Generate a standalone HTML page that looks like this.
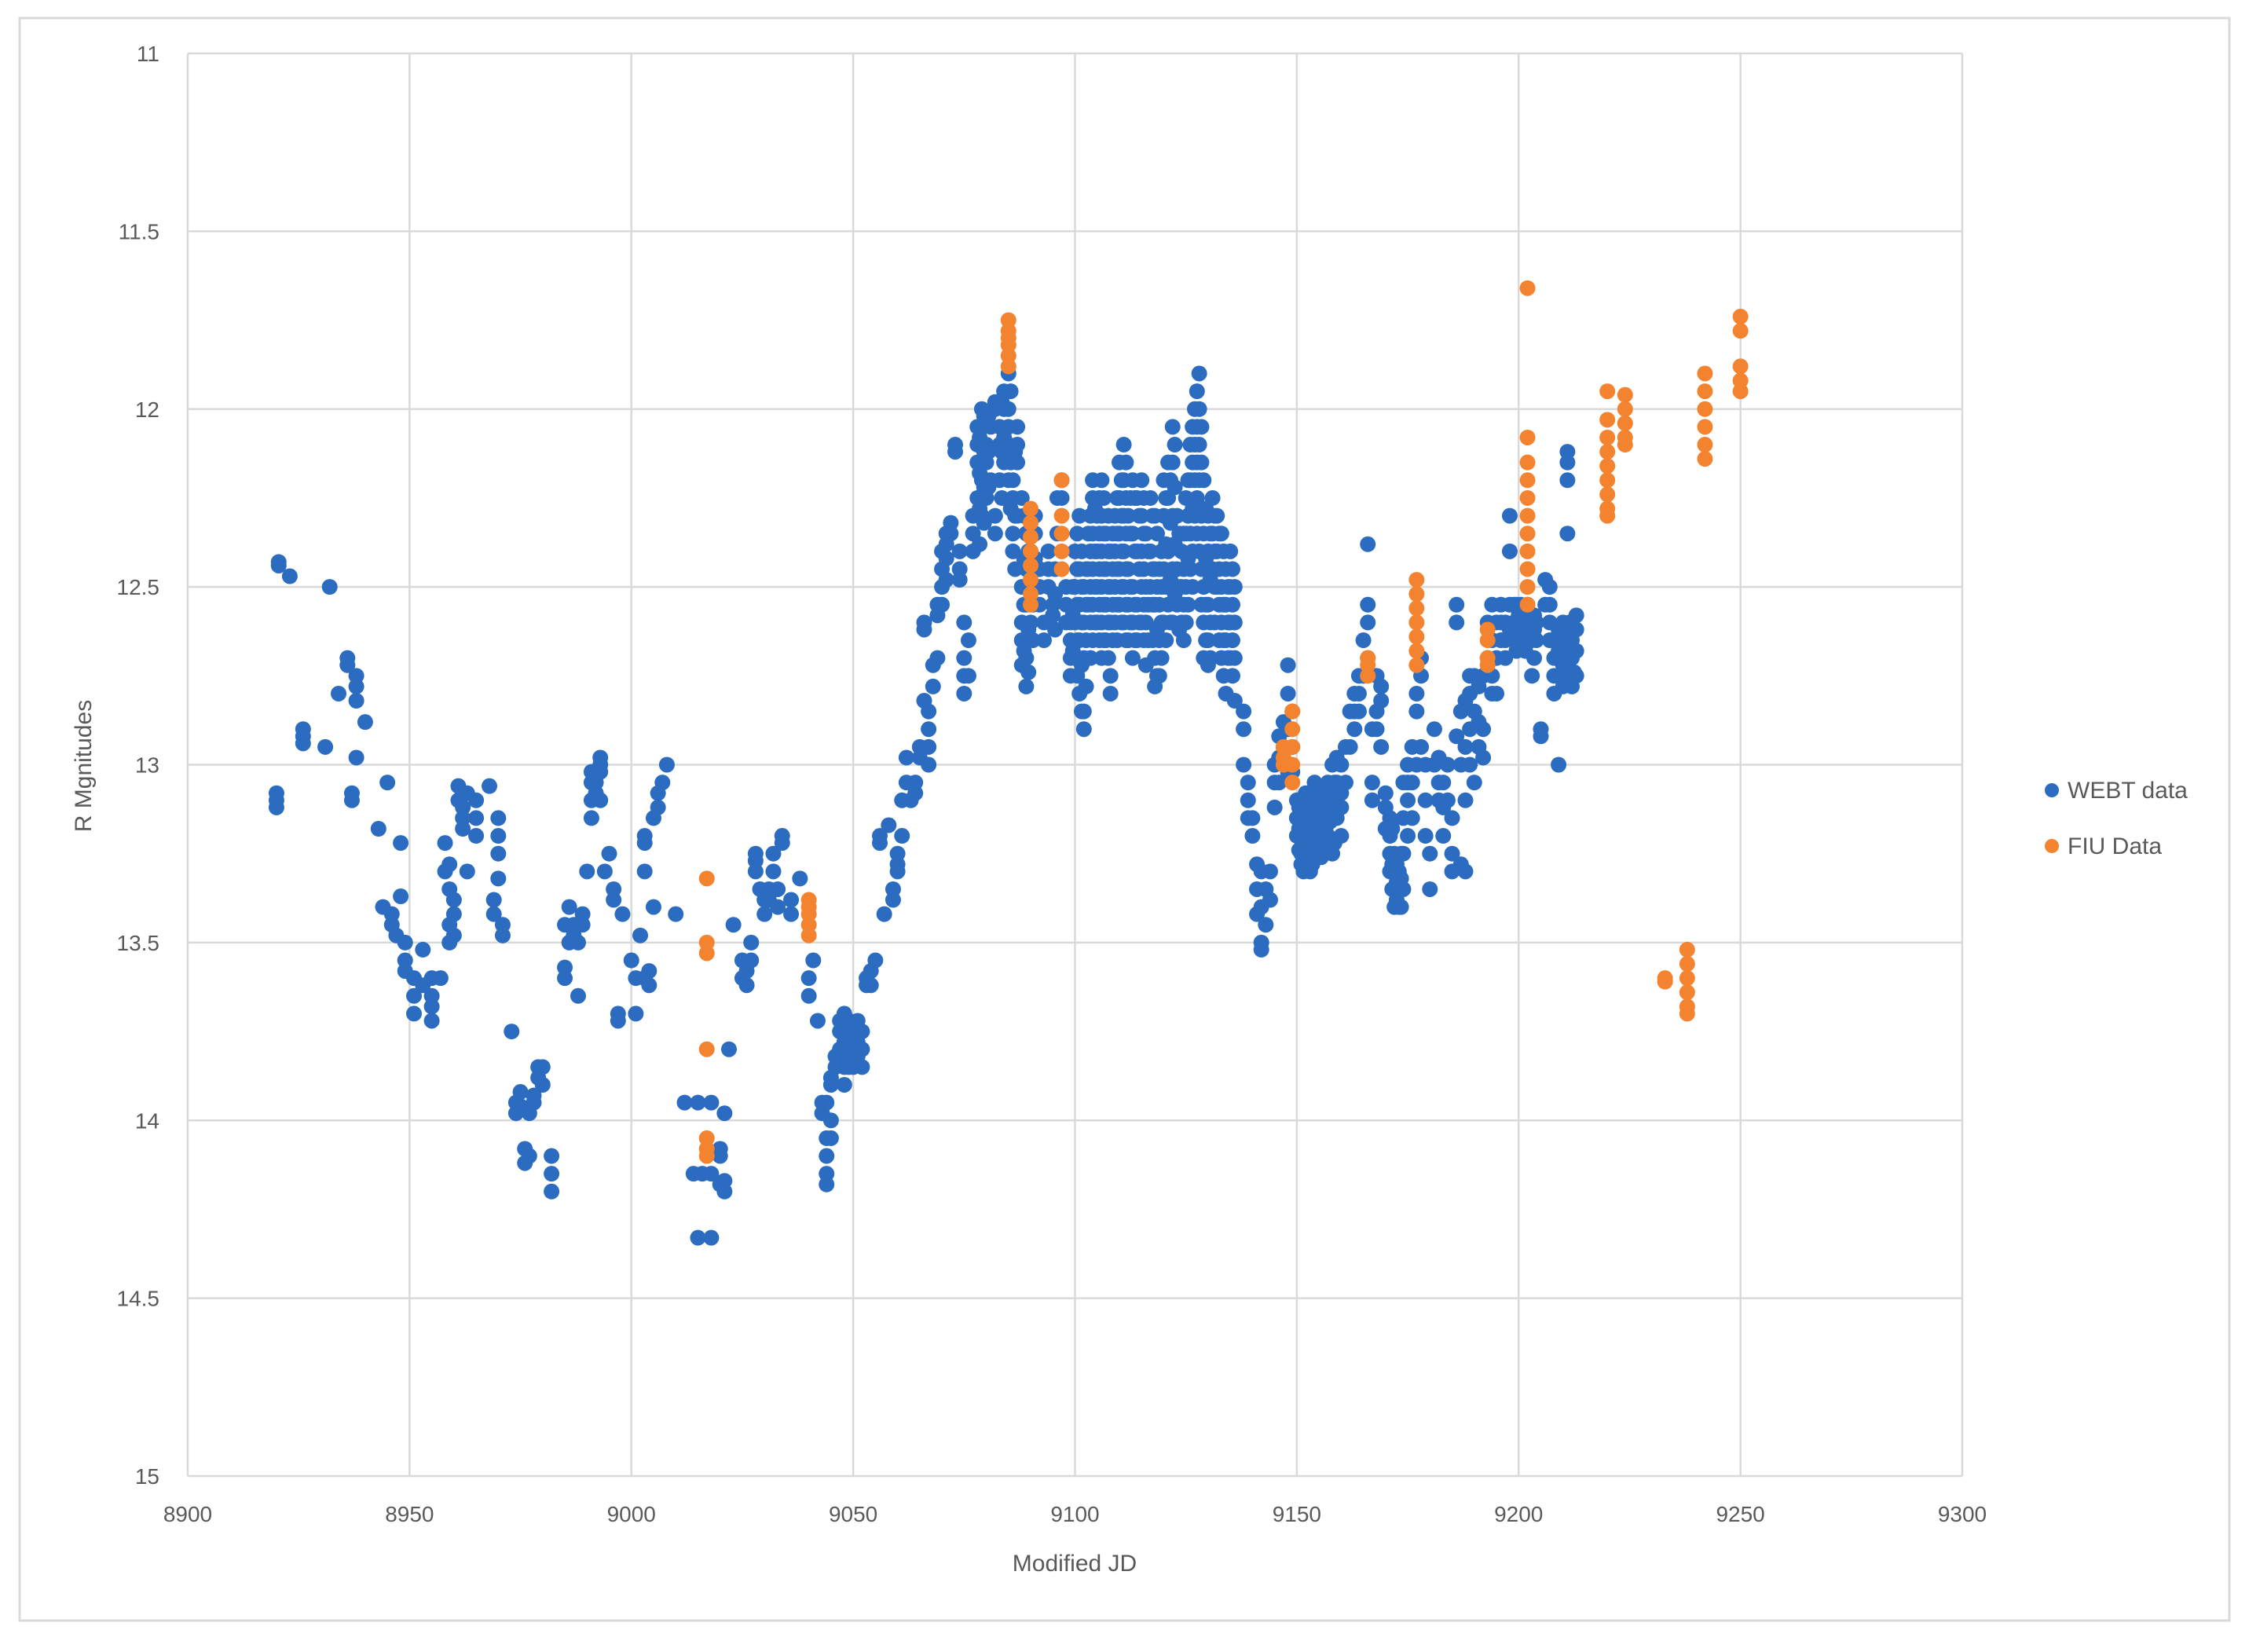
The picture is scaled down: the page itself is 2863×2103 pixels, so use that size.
<!DOCTYPE html>
<html><head><meta charset="utf-8"><style>
html,body{margin:0;padding:0;background:#fff;}
svg{display:block;font-family:"Liberation Sans",sans-serif;}
</style></head><body>
<svg id="chart" width="2863" height="2103" viewBox="0 0 2863 2103" xmlns="http://www.w3.org/2000/svg">
<rect x="25" y="23" width="2813" height="2040" fill="#fff" stroke="#d9d9d9" stroke-width="3"/>
<g id="grid"></g>
<g id="ticks" fill="#595959" font-size="28"></g>
<g id="marks"></g>
<text x="1368" y="2000" text-anchor="middle" font-size="30" fill="#595959">Modified JD</text>
<text transform="translate(116,975) rotate(-90)" text-anchor="middle" font-size="30" fill="#595959">R Mgnitudes</text>
<g>
<g><circle cx="2612" cy="1006" r="9" fill="#2b6cc0"/><text x="2632" y="1016" font-size="30" fill="#595959">WEBT data</text></g>
<g><circle cx="2612" cy="1077" r="9" fill="#f4832f"/><text x="2632" y="1087" font-size="30" fill="#595959">FIU Data</text></g>
</g>
</svg>
<script>
const xTicks=[8900,8950,9000,9050,9100,9150,9200,9250,9300];
const yTicks=[11,11.5,12,12.5,13,13.5,14,14.5,15];
const yTickLabels=["11","11.5","12","12.5","13","13.5","14","14.5","15"];
const webtGroups=[
[8920,[13.1,13.12,13.08]],[8920.5,[12.43,12.44]],[8923,[12.47]],[8926,[12.9,12.92,12.94]],[8931,[12.95]],[8932,[12.5]],[8934,[12.8]],
[8936,[12.7,12.72]],[8937,[13.1,13.08]],[8938,[12.75,12.78,12.82,12.98]],[8940,[12.88]],[8943,[13.18]],[8944,[13.4]],[8945,[13.05]],
[8946,[13.42,13.45]],[8947,[13.48]],[8948,[13.37,13.22]],[8949,[13.5,13.55,13.58]],[8951,[13.6,13.65,13.7]],[8953,[13.62,13.52]],
[8955,[13.6,13.65,13.68,13.72]],[8957,[13.6]],[8958,[13.22,13.3]],[8959,[13.28,13.35,13.45,13.5]],[8960,[13.38,13.42,13.48]],
[8961,[13.06,13.1]],[8962,[13.12,13.15,13.18]],[8963,[13.3,13.08]],[8965,[13.1,13.15,13.2]],[8968,[13.06]],[8969,[13.38,13.42]],
[8970,[13.15,13.2,13.25,13.32]],[8971,[13.45,13.48]],[8973,[13.75]],[8974,[13.95,13.98]],[8975,[13.92,13.96]],[8976,[14.08,14.12]],
[8977,[14.1,13.98]],[8978,[13.95,13.93]],[8979,[13.85,13.88]],[8980,[13.9,13.85]],[8982,[14.1,14.15,14.2]],[8985,[13.57,13.6,13.45]],
[8986,[13.4,13.5]],[8987,[13.45,13.48]],[8988,[13.5,13.65]],[8989,[13.42,13.45]],[8990,[13.3]],[8991,[13.02,13.05,13.1,13.15]],
[8992,[13.05,13.08]],[8993,[12.98,13.0,13.02,13.1]],[8994,[13.3]],[8995,[13.25]],[8996,[13.35,13.38]],[8997,[13.7,13.72]],[8998,[13.42]],
[9000,[13.55]],[9001,[13.6,13.7]],[9002,[13.48]],[9003,[13.3,13.2,13.22,13.6]],[9004,[13.62,13.58]],[9005,[13.4,13.15]],[9006,[13.12,13.08]],
[9007,[13.05]],[9008,[13.0]],[9010,[13.42]],[9012,[13.95]],[9014,[14.15]],[9015,[14.33,13.95]],[9016,[14.15]],[9018,[14.33,13.95,14.15]],
[9020,[14.18,14.08,14.1]],[9021,[13.98,14.2,14.17]],[9022,[13.8]],[9023,[13.45]],[9025,[13.55,13.6]],[9026,[13.58,13.62]],[9027,[13.55,13.5]],
[9028,[13.25,13.3,13.27]],[9029,[13.35]],[9030,[13.38,13.42]],[9031,[13.35,13.38]],[9032,[13.3,13.25]],[9033,[13.35,13.4]],[9034,[13.2,13.22]],
[9036,[13.38,13.42]],[9038,[13.32]],[9040,[13.6,13.65]],[9041,[13.55]],[9042,[13.72]],[9043,[13.95,13.98]],[9044,[13.95,14.05,14.1,14.15,14.18]],
[9045,[13.88,13.9,14.0,14.05]],[9046,[13.82,13.85]],[9047,[13.72,13.75,13.8]],[9048,[13.7,13.75,13.78,13.82,13.85,13.9]],[9049,[13.72,13.76,13.8,13.85]],
[9050,[13.75,13.8,13.85]],[9051,[13.72,13.78,13.82]],[9052,[13.75,13.8,13.85]],[9053,[13.6,13.62]],[9054,[13.58,13.62]],[9055,[13.55]],
[9056,[13.2,13.22]],[9057,[13.42]],[9058,[13.17]],[9059,[13.38,13.35]],[9060,[13.28,13.3,13.25]],[9061,[13.2,13.1]],[9062,[13.05,12.98]],
[9063,[13.1]],[9064,[13.08,13.05]],[9065,[12.98,12.95]],[9066,[12.82,12.62,12.6]],[9067,[12.85,12.9,12.95,13.0]],[9068,[12.78,12.72]],
[9069,[12.7,12.58,12.55]],[9070,[12.4,12.45,12.5,12.55]],[9071,[12.35,12.38,12.42,12.48]],[9072,[12.32,12.35]],[9073,[12.1,12.12]],
[9074,[12.4,12.45,12.48]],[9075,[12.6,12.7,12.75,12.8]],[9076,[12.65,12.75]],[9077,[12.3,12.35,12.4]],[9078,[12.05,12.1,12.15,12.25]],
[9079,[12.0,12.05,12.15,12.2,12.3]],[9080,[12.1,12.15,12.2,12.25]],[9081,[12.05,12.2]],[9082,[12.0,11.98,12.3,12.35]],[9083,[12.05,12.1,12.2]],
[9084,[11.95,12.0,12.08,12.15]],[9085,[11.9,12.0,12.05,12.1,12.2]],[9086,[12.2,12.25,12.35,12.4]],[9087,[12.05,12.1,12.15,12.3]],
[9088,[12.25,12.5,12.6,12.65,12.72]],[9089,[12.35,12.45,12.55,12.7,12.78]],[9090,[12.4,12.5,12.6]],[9091,[12.3,12.35,12.42]],
[9092,[12.45,12.5,12.55]],[9093,[12.6,12.65]],[9094,[12.4,12.45,12.5]],[9095,[12.55,12.58]],[9096,[12.25,12.35]],[9097,[12.2,12.25]],
[9098,[12.5,12.55,12.6]],[9099,[12.6,12.65,12.7,12.75]],[9100,[12.4,12.5,12.6,12.7]],[9101,[12.3,12.45,12.55,12.65,12.8]],
[9102,[12.5,12.6,12.7,12.85,12.9]],[9103,[12.35,12.45,12.55]],[9104,[12.2,12.25,12.35,12.45,12.55,12.65]],[9105,[12.3,12.4,12.5,12.6]],
[9106,[12.2,12.3,12.4,12.5,12.6,12.7]],[9107,[12.35,12.45,12.55,12.65]],[9108,[12.4,12.5,12.6,12.75,12.8]],[9109,[12.3,12.4,12.5,12.6]],
[9110,[12.15,12.25,12.35,12.45,12.55]],[9111,[12.1,12.2,12.3,12.4,12.5,12.6]],[9112,[12.3,12.45,12.55,12.65]],[9113,[12.2,12.35,12.5,12.6,12.7]],
[9114,[12.25,12.4,12.55,12.65]],[9115,[12.2,12.3,12.4,12.5,12.6]],[9116,[12.35,12.5,12.6,12.72]],[9117,[12.25,12.4,12.5]],
[9118,[12.3,12.45,12.55,12.7,12.78]],[9119,[12.45,12.55,12.65,12.75]],[9120,[12.2,12.3,12.45,12.6]],[9121,[12.15,12.25,12.4,12.55]],
[9122,[12.05,12.15,12.3,12.45,12.6]],[9123,[12.3,12.45,12.55]],[9124,[12.4,12.5,12.6]],[9125,[12.25,12.35,12.5,12.6]],
[9126,[12.1,12.2,12.35,12.45]],[9127,[12.0,12.1,12.2,12.3]],[9128,[11.9,12.0,12.1,12.2,12.4]],[9129,[12.2,12.35,12.5,12.6,12.7]],
[9130,[12.3,12.4,12.55,12.65,12.72]],[9131,[12.25,12.35,12.45]],[9132,[12.3,12.4,12.5]],[9133,[12.35,12.5,12.6,12.7]],
[9134,[12.45,12.55,12.65,12.8]],[9135,[12.4,12.5,12.6,12.7]],[9136,[12.5,12.6,12.7,12.82]],[9138,[12.85,12.9,13.0]],
[9139,[13.05,13.1,13.15]],[9140,[13.15,13.2]],[9141,[13.28,13.35,13.42]],[9142,[13.3,13.4,13.5,13.52]],[9143,[13.35,13.45]],
[9144,[13.3,13.38]],[9145,[13.0,13.05,13.12]],[9146,[12.92,12.98,13.05]],[9147,[12.88,12.95]],[9148,[12.72,12.8,12.9,13.02]],
[9149,[12.85,12.95,13.02]],[9150,[13.1,13.15,13.2]],[9151,[13.15,13.2,13.25,13.28]],[9152,[13.08,13.15,13.22,13.28]],
[9153,[13.1,13.2,13.3]],[9154,[13.05,13.15,13.25]],[9155,[13.1,13.18,13.25]],[9156,[13.08,13.15,13.22]],[9157,[13.05,13.12,13.2]],
[9158,[13.0,13.1,13.25]],[9159,[12.98,13.05,13.15]],[9160,[13.0,13.08,13.12,13.2]],[9161,[12.95,13.05]],[9162,[12.85,12.95]],
[9163,[12.8,12.85,12.9]],[9164,[12.75,12.8,12.85]],[9165,[12.65,12.75]],[9166,[12.38,12.55,12.6,12.7]],[9167,[13.05,13.1,12.9]],
[9168,[12.75,12.85,12.9]],[9169,[12.78,12.82,12.95]],[9170,[13.08,13.12,13.18]],[9171,[13.15,13.2,13.25,13.3]],[9172,[13.25,13.3,13.35,13.4]],
[9173,[13.3,13.35,13.4]],[9174,[13.05,13.15,13.25,13.35]],[9175,[13.0,13.05,13.1,13.2]],[9176,[12.95,13.05,13.15]],[9177,[12.8,12.85,13.0]],
[9178,[12.7,12.75,12.95]],[9179,[13.0,13.1,13.2]],[9180,[13.25,13.35]],[9181,[12.9,13.0]],[9182,[12.98,13.05,13.1]],[9183,[13.05,13.12,13.2]],
[9184,[13.0,13.1]],[9185,[13.15,13.25,13.3]],[9186,[12.55,12.6,12.92]],[9187,[12.85,13.0,13.28]],[9188,[12.82,12.95,13.1,13.3]],
[9189,[12.75,12.8,12.9,13.0]],[9190,[12.75,12.85,13.05]],[9191,[12.78,12.88,12.95]],[9192,[12.75,12.9,12.98]],[9193,[12.6,12.7]],
[9194,[12.55,12.65,12.75,12.8]],[9195,[12.6,12.7,12.8]],[9196,[12.55,12.6,12.65]],[9197,[12.6,12.65,12.7]],[9198,[12.3,12.4,12.55,12.62]],
[9199,[12.55,12.6,12.65]],[9200,[12.58,12.6,12.62]],[9201,[12.6,12.65]],[9202,[12.55,12.6]],[9203,[12.6,12.65,12.75]],[9204,[12.6,12.65]],
[9205,[12.9,12.92]],[9206,[12.48,12.55]],[9207,[12.5,12.55,12.6,12.65]],[9208,[12.7,12.75,12.8]],[9209,[12.62,12.68,12.75,13.0]],
[9210,[12.6,12.65,12.72,12.78]],[9211,[12.35,12.12,12.15,12.2]],[9212,[12.6,12.65,12.7,12.78]],[9213,[12.58,12.62,12.68,12.75]]
];
const webtFill=[
[9078.5,[12.08,12.18,12.28,12.38]],[9079.5,[12.02,12.12,12.22,12.32]],[9080.5,[12.02,12.12,12.22]],[9083.5,[11.98,12.12,12.25]],
[9085.5,[11.95,12.15,12.28]],[9086.5,[12.12,12.3,12.45]],[9088.5,[12.3,12.42,12.55,12.68]],[9089.5,[12.4,12.5,12.62,12.74]],
[9090.5,[12.45,12.55,12.65]],[9095.5,[12.45,12.52,12.62]],[9099.5,[12.5,12.58,12.68]],
[9100.5,[12.35,12.45,12.55,12.65,12.75]],[9101.5,[12.4,12.5,12.6,12.72,12.85]],[9102.5,[12.45,12.55,12.65,12.78]],
[9103.5,[12.3,12.4,12.5,12.6,12.7]],[9104.5,[12.28,12.4,12.5,12.6]],[9105.5,[12.25,12.35,12.45,12.55,12.65]],
[9106.5,[12.25,12.35,12.45,12.55,12.65]],[9107.5,[12.3,12.4,12.5,12.6,12.7]],[9108.5,[12.35,12.45,12.55,12.65]],
[9109.5,[12.25,12.35,12.45,12.55,12.65]],[9110.5,[12.2,12.3,12.4,12.5,12.6]],[9111.5,[12.15,12.25,12.35,12.45,12.55,12.65]],
[9112.5,[12.25,12.35,12.5,12.6]],[9113.5,[12.25,12.4,12.55,12.65]],[9114.5,[12.3,12.45,12.6]],[9115.5,[12.25,12.35,12.45,12.55,12.65]],
[9116.5,[12.4,12.55,12.65]],[9117.5,[12.3,12.45,12.55,12.65]],[9118.5,[12.35,12.5,12.62,12.75]],[9119.5,[12.4,12.5,12.6,12.7]],
[9120.5,[12.25,12.38,12.5,12.65]],[9121.5,[12.2,12.32,12.48,12.6]],[9122.5,[12.1,12.22,12.38,12.52]],[9123.5,[12.35,12.5,12.62]],
[9124.5,[12.35,12.45,12.55,12.65]],[9125.5,[12.2,12.3,12.42,12.55]],[9126.5,[12.05,12.15,12.28,12.4,12.5]],
[9127.5,[11.95,12.05,12.15,12.25,12.35]],[9128.5,[12.05,12.15,12.3,12.45,12.55]],[9129.5,[12.28,12.42,12.55,12.65]],
[9130.5,[12.35,12.48,12.6,12.7]],[9131.5,[12.3,12.4,12.5,12.6]],[9132.5,[12.35,12.45,12.55,12.65]],[9133.5,[12.4,12.55,12.65,12.75]],
[9134.5,[12.5,12.6,12.7]],[9135.5,[12.45,12.55,12.65,12.75]],
[9150.5,[13.12,13.18,13.24]],[9151.5,[13.18,13.24,13.3]],[9152.5,[13.1,13.18,13.25]],[9153.5,[13.12,13.22,13.28]],
[9154.5,[13.08,13.18,13.24]],[9155.5,[13.12,13.2,13.26]],[9156.5,[13.1,13.18]],[9157.5,[13.08,13.16,13.24]],[9158.5,[13.05,13.15,13.22]],
[9171.5,[13.18,13.28,13.35]],[9172.5,[13.28,13.33,13.38]],[9173.5,[13.25,13.32,13.4]],
[9199.5,[12.55,12.62,12.68]],[9200.5,[12.55,12.6,12.66]],[9201.5,[12.58,12.62,12.68]],[9203.5,[12.58,12.62,12.7]],
[9210.5,[12.62,12.7,12.75]],[9212.5,[12.62,12.68,12.74]],[9211.5,[12.6,12.68,12.75]]
];
const fiuGroups=[
[9017,[13.32,13.5,13.53,13.8,14.05,14.08,14.1]],[9040,[13.38,13.4,13.42,13.45,13.48]],
[9085,[11.75,11.78,11.8,11.82,11.85,11.88]],[9090,[12.28,12.32,12.36,12.4,12.44,12.48,12.52,12.55]],
[9097,[12.2,12.3,12.35,12.4,12.45]],[9147,[12.95,12.98,13.0]],[9149,[12.85,12.9,12.95,13.0,13.05]],
[9166,[12.7,12.72,12.75]],[9177,[12.48,12.52,12.56,12.6,12.64,12.68,12.72]],[9193,[12.62,12.65,12.7,12.72]],
[9202,[11.66,12.08,12.15,12.2,12.25,12.3,12.35,12.4,12.45,12.5,12.55]],[9220,[11.95,12.03,12.08,12.12,12.16,12.2,12.24,12.28,12.3]],
[9224,[11.96,12.0,12.04,12.08,12.1]],[9233,[13.6,13.61]],[9238,[13.52,13.56,13.6,13.64,13.68,13.7]],
[9242,[11.9,11.95,12.0,12.05,12.1,12.14]],[9250,[11.74,11.78,11.88,11.92,11.95]]
];
const NS="http://www.w3.org/2000/svg";
const X0=239,X1=2498,Y0=68,Y1=1879;
function sx(v){return X0+(v-8900)/400*(X1-X0);}
function sy(v){return Y0+(v-11)/4*(Y1-Y0);}
const grid=document.getElementById('grid'),ticks=document.getElementById('ticks'),marks=document.getElementById('marks');
function mk(tag,attrs,parent){const e=document.createElementNS(NS,tag);for(const k in attrs)e.setAttribute(k,attrs[k]);parent.appendChild(e);return e;}
xTicks.forEach(t=>{
  const l=mk('line',{x1:sx(t),x2:sx(t),y1:Y0,y2:Y1,stroke:'#d9d9d9','stroke-width':2.5},grid);
  
  
  const tx=mk('text',{x:sx(t),y:1937,'text-anchor':'middle'},ticks);tx.textContent=String(t);
  
  
});
yTicks.forEach((t,i)=>{
  const l=mk('line',{x1:X0,x2:X1,y1:sy(t),y2:sy(t),stroke:'#d9d9d9','stroke-width':2.5},grid);
  
  
  const tx=mk('text',{x:203,y:sy(t)+10,'text-anchor':'end'},ticks);tx.textContent=yTickLabels[i];
  
  
});
function drawSeries(groups,color,name){
  groups.forEach(g=>{g[1].forEach(m=>{
    const c=mk('circle',{cx:sx(g[0]),cy:sy(m),r:10,fill:color},marks);
    
    
  });});
}
drawSeries(webtGroups,'#2b6cc0','webt-point');
drawSeries(webtFill,'#2b6cc0','webt-point');
drawSeries(fiuGroups,'#f4832f','fiu-point');
</script>
</body></html>
